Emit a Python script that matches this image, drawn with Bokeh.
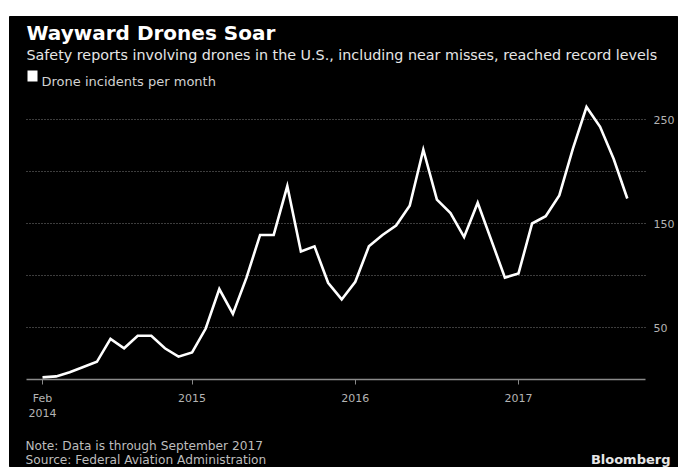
from bokeh.plotting import figure
from bokeh.models import FixedTicker, Range1d
from bokeh.core.properties import value
from bokeh.embed import file_html
from bokeh.resources import INLINE

# Monthly drone incident reports, Feb 2014 .. Sep 2017
months = ["2014-02", "2014-03", "2014-04", "2014-05", "2014-06", "2014-07", "2014-08",
          "2014-09", "2014-10", "2014-11", "2014-12",
          "2015-01", "2015-02", "2015-03", "2015-04", "2015-05", "2015-06", "2015-07",
          "2015-08", "2015-09", "2015-10", "2015-11", "2015-12",
          "2016-01", "2016-02", "2016-03", "2016-04", "2016-05", "2016-06", "2016-07",
          "2016-08", "2016-09", "2016-10", "2016-11", "2016-12",
          "2017-01", "2017-02", "2017-03", "2017-04", "2017-05", "2017-06", "2017-07",
          "2017-08", "2017-09"]
incidents = [2, 3, 7, 12, 17, 39, 30, 42, 42, 30, 22,
             26, 49, 87, 63, 98, 139, 139, 186, 123, 128, 93, 77,
             94, 128, 139, 148, 167, 221, 173, 160, 137, 170, 134, 98,
             102, 150, 157, 177, 222, 262, 243, 212, 174]
x_tick_months = ["2014-02", "2015-01", "2016-01", "2017-01"]
x_tick_labels = ["Feb\n2014", "2015", "2016", "2017"]
y_label_ticks = [50, 150, 250]
y_grid_ticks = [50, 100, 150, 200, 250]

title = "Wayward Drones Soar"
subtitle = "Safety reports involving drones in the U.S., including near misses, reached record levels"
legend_text = "Drone incidents per month"
note = "Note: Data is through September 2017"
source = "Source: Federal Aviation Administration"
brand = "Bloomberg"

idx = list(range(len(months)))
tick_idx = [months.index(m) for m in x_tick_months]
FONT = "DejaVu Sans"

# ---- page geometry (pixels in the 682x467 window) ----
PG_L, PG_R, PG_T, PG_B = 9, 678, 16, 467        # black panel
PLOT_L, PLOT_R = 26, 645                         # axis / grid extent
X0_PX, DX_PX = 42, 13.6                          # first month position, px per month
Y0_PX, DY_PX = 379, 1.04                         # zero line, px per incident


def xd(px):
    return (px - X0_PX) / DX_PX


def yd(py):
    return (Y0_PX - py) / DY_PX


p = figure(width=PG_R - PG_L, height=PG_B - PG_T, output_backend="svg", toolbar_location=None,
           x_range=Range1d(xd(PG_L), xd(PG_R)), y_range=Range1d(yd(PG_B), yd(PG_T)),
           y_axis_location="right", margin=(PG_T, 682 - PG_R, 0, PG_L),
           min_border_left=0, min_border_right=0, min_border_top=0, min_border_bottom=0)
p.extra_x_ranges = {"page_x": Range1d(PG_L, PG_R)}
p.extra_y_ranges = {"page_y": Range1d(PG_B, PG_T)}
p.background_fill_color = "black"
p.border_fill_color = "black"
p.outline_line_color = "black"

# grid
p.xgrid.visible = False
g = p.ygrid[0]
g.ticker = FixedTicker(ticks=y_grid_ticks)
g.grid_line_color = "#7a7a7a"
g.grid_line_dash = "1 2"
g.grid_line_width = 1
if "cross_bounds" in g.properties():
    g.cross_bounds = (xd(PLOT_L), xd(PLOT_R))
else:
    g.visible = False
    p.segment(x0=[xd(PLOT_L)] * len(y_grid_ticks), x1=[xd(PLOT_R)] * len(y_grid_ticks),
              y0=y_grid_ticks, y1=y_grid_ticks, line_color="#7a7a7a", line_dash="1 2",
              line_width=1)

p.line(idx, incidents, line_color="white", line_width=2.6, line_join="miter")

# x axis drawn at zero
xa = p.xaxis[0]
xa.fixed_location = 0
xa.bounds = (xd(PLOT_L), xd(PLOT_R))
xa.ticker = FixedTicker(ticks=tick_idx)
xa.major_label_overrides = {i: l for i, l in zip(tick_idx, x_tick_labels)}
xa.axis_line_color = "#8a8a8a"
xa.axis_line_width = 1.5
xa.major_tick_line_color = "#8a8a8a"
xa.major_tick_in = 0
xa.major_tick_out = 5
xa.minor_tick_line_color = None
xa.major_label_text_color = "#b4b4b4"
xa.major_label_text_font = FONT
xa.major_label_text_font_size = "11px"
xa.major_label_standoff = 7

# y axis drawn at the right end of the plot area
ya = p.yaxis[0]
ya.fixed_location = xd(PLOT_R)
ya.ticker = FixedTicker(ticks=y_label_ticks)
ya.axis_line_color = None
ya.major_tick_line_color = None
ya.major_tick_in = 0
ya.major_tick_out = 0
ya.minor_tick_line_color = None
ya.major_label_text_color = "#b4b4b4"
ya.major_label_text_font = FONT
ya.major_label_text_font_size = "11px"
ya.major_label_standoff = 8


def txt(x, y, s, size, color, bold=False, align="left"):
    p.text(x=[x], y=[y], text=[s], x_range_name="page_x", y_range_name="page_y",
           text_font=value(FONT), text_font_size=size,
           text_font_style="bold" if bold else "normal", text_color=color,
           text_align=align, text_baseline="alphabetic")


txt(26, 32, title, "20px", "white", bold=True)
txt(26, 54, subtitle, "14.3px", "#e6e6e6")
p.quad(left=[27], right=[37], top=[70], bottom=[81], x_range_name="page_x",
       y_range_name="page_y", fill_color="white", line_color=None)
txt(41, 81, legend_text, "13px", "#d2d2d2")
txt(25, 445, note, "12.2px", "#bdbdbd")
txt(25, 459, source, "12.2px", "#bdbdbd")
txt(670, 459, brand, "13px", "#e6e6e6", bold=True, align="right")

open("out.html", "w").write(file_html(p, INLINE))
